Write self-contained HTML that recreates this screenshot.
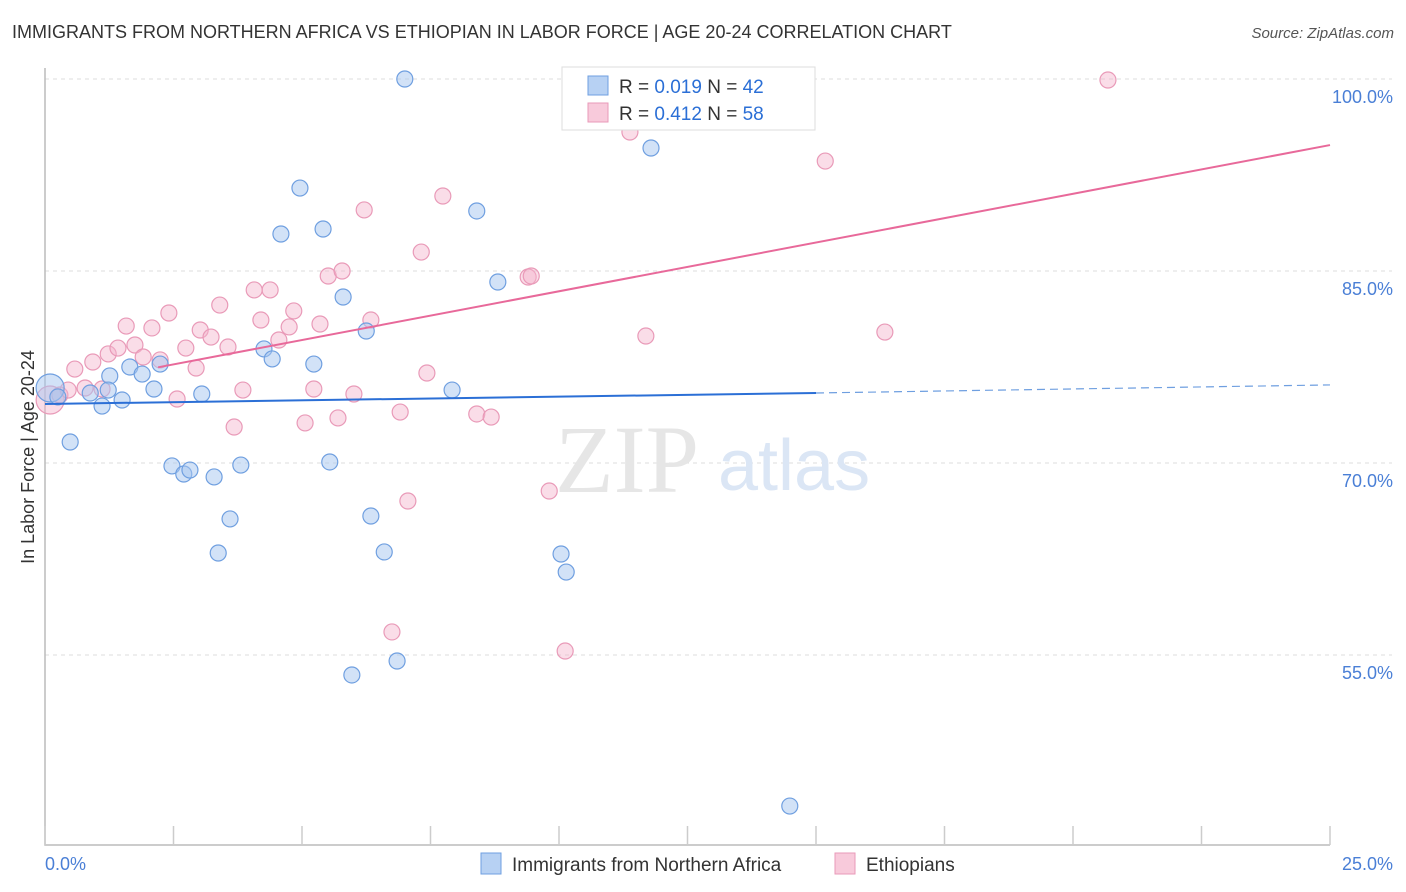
<!DOCTYPE html>
<html><head><meta charset="utf-8">
<style>
body{margin:0;background:#fff;font-family:"Liberation Sans",sans-serif;}
#wrap{position:relative;width:1406px;height:892px;overflow:hidden;}
.t{position:absolute;white-space:nowrap;}
</style></head>
<body>
<div id="wrap">
<div class="t" style="left:12px;top:22px;font-size:18px;color:#333;">IMMIGRANTS FROM NORTHERN AFRICA VS ETHIOPIAN IN LABOR FORCE | AGE 20-24 CORRELATION CHART</div>
<div class="t" style="right:12px;top:25px;font-size:15px;color:#555;font-style:italic;">Source: ZipAtlas.com</div>
<svg id="svg" width="1406" height="892" style="position:absolute;left:0;top:0"></svg>
</div>
<script>
const xTickVals=[0,2.5,5,7.5,10,12.5,15,17.5,20,22.5,25];
const yGridVals=[100,85,70,55];
const yTickLabels=["100.0%","85.0%","70.0%","55.0%"];
const xEndLabels=["0.0%","25.0%"];
const blueX=[0.10,0.25,0.49,0.88,1.11,1.26,1.50,1.65,1.89,2.12,2.24,2.47,2.70,2.82,3.05,3.29,3.60,3.37,3.81,4.26,4.42,4.59,4.96,5.23,5.41,5.54,5.80,6.25,6.34,6.60,6.85,5.97,7.00,7.92,8.40,8.81,10.04,10.14,11.79,13.52,14.49,1.23];
const blueY=[75.86,75.16,71.64,75.47,74.45,76.80,74.92,77.50,76.95,75.78,77.73,69.77,69.14,69.45,75.39,68.91,65.63,62.97,69.84,78.91,78.13,87.89,91.48,77.73,88.28,70.08,82.97,80.31,65.86,63.05,54.53,53.44,100,75.70,89.69,84.14,62.89,61.48,94.61,99.92,43.2,75.70];
const pinkX=[0.10,0.29,0.45,0.58,0.78,0.93,1.11,1.23,1.42,1.58,1.75,1.91,2.08,2.24,2.41,2.57,2.74,2.94,3.02,3.23,3.40,3.56,3.68,3.85,4.07,4.20,4.38,4.55,4.75,4.84,5.06,5.23,5.35,5.51,5.70,5.78,6.01,6.21,6.34,6.75,6.91,7.06,7.32,7.43,7.74,8.40,8.68,9.40,9.46,9.81,10.12,11.38,11.69,12.74,14.69,15.18,16.34,20.68];
const pinkY=[74.92,75.31,75.70,77.34,75.86,77.89,75.78,78.52,78.98,80.70,79.22,78.28,80.55,78.05,81.72,75.0,78.98,77.42,80.39,79.84,82.34,79.06,72.81,75.70,83.52,81.17,83.52,79.61,80.63,81.88,73.13,75.78,80.86,84.61,73.52,85.0,75.39,89.77,81.17,56.80,73.98,67.03,86.48,77.03,90.86,73.83,73.59,84.53,84.61,67.81,55.31,95.86,79.92,99.92,99.92,93.59,80.23,99.92];
const blueTrend=[74.61,75.47,76.1]; // at x=0, 15, 25
const pinkTrend=[75.8,94.84]; // at x=0, 25

const NS="http://www.w3.org/2000/svg";
const svg=document.getElementById('svg');
const X=v=>45+v*51.4;
const Y=v=>79+(100-v)*12.8;
function mk(tag,attrs,parent){const e=document.createElementNS(NS,tag);for(const k in attrs)e.setAttribute(k,attrs[k]);(parent||svg).appendChild(e);return e;}

yGridVals.forEach((v,i)=>{
  const g=mk('line',{x1:45,x2:1392,y1:Y(v),y2:Y(v),stroke:'#ddd','stroke-dasharray':'4,4'});
  
  const t=mk('text',{x:1393,y:Y(v)+24,'text-anchor':'end','font-size':18,fill:'#4a7fd6','font-family':'Liberation Sans'});
  t.textContent=yTickLabels[i];
  
});
const ax=mk('path',{d:'M45,68V845H1330',stroke:'#bbb',fill:'none','stroke-width':1.5});

xTickVals.forEach(v=>{
  const l=mk('line',{x1:X(v),x2:X(v),y1:826,y2:845,stroke:'#ccc','stroke-width':1.5});
  
});
[[0,'start',45],[25,'end',1393]].forEach((p,i)=>{
  const t=mk('text',{x:p[2],y:870,'text-anchor':p[1],'font-size':18,fill:'#4a7fd6','font-family':'Liberation Sans'});
  t.textContent=xEndLabels[i];
  
});
const yt=mk('text',{x:0,y:0,transform:'translate(34,457) rotate(-90)','text-anchor':'middle','font-size':18,fill:'#333','font-family':'Liberation Sans'});
yt.textContent='In Labor Force | Age 20-24';


// watermark
const wm=mk('text',{x:555,y:492,'font-size':96,fill:'#e6e6e6','font-family':'Liberation Serif'});
wm.textContent='ZIP';
const wm2=mk('text',{x:718,y:490,'font-size':72,fill:'#dbe6f5','font-family':'Liberation Sans'});
wm2.textContent='atlas';

function pts(xs,ys,fill,stroke,name){
  xs.forEach((x,i)=>{
    const big=(i===0);
    const c=mk('circle',{cx:X(x),cy:Y(ys[i]),r:big?14:8,fill:fill,stroke:stroke,'stroke-width':1.2});
    
  });
}
pts(pinkX,pinkY,'rgba(245,180,204,0.45)','#e99ab8','ethiopian-point');
pts(blueX,blueY,'rgba(165,198,240,0.5)','#6f9fe0','northern-africa-point');

const pl=mk('line',{x1:X(2.2),y1:Y(pinkTrend[0]+(pinkTrend[1]-pinkTrend[0])*2.2/25),x2:X(25),y2:Y(pinkTrend[1]),stroke:'#e8699a','stroke-width':2});

const bl=mk('line',{x1:X(0),y1:Y(blueTrend[0]),x2:X(15),y2:Y(blueTrend[1]),stroke:'#2b6fd6','stroke-width':2});

const bd=mk('line',{x1:X(15),y1:Y(blueTrend[1]),x2:X(25),y2:Y(blueTrend[2]),stroke:'#6f9fe0','stroke-width':1.2,'stroke-dasharray':'8,5'});


// top legend
const lg=mk('rect',{x:562,y:67,width:253,height:63,fill:'#fff',stroke:'#ddd'});

[[76,'rgba(165,198,240,0.8)','#6f9fe0','0.019','42'],[103,'rgba(245,180,204,0.7)','#e99ab8','0.412','58']].forEach(r=>{
  const s=mk('rect',{x:588,y:r[0],width:20,height:19,fill:r[1],stroke:r[2]});
  
  const t=mk('text',{x:619,y:r[0]+17,'font-size':19,fill:'#333','font-family':'Liberation Sans'});
  t.innerHTML='R = <tspan fill="#2b6fd6">'+r[3]+'</tspan>   N = <tspan fill="#2b6fd6">'+r[4]+'</tspan>';
  t.setAttribute('xml:space','preserve');
  
});
// bottom legend
[[481,'rgba(165,198,240,0.8)','#6f9fe0','Immigrants from Northern Africa'],[835,'rgba(245,180,204,0.7)','#e99ab8','Ethiopians']].forEach(r=>{
  const s=mk('rect',{x:r[0],y:853,width:20,height:21,fill:r[1],stroke:r[2]});
  
  const t=mk('text',{x:r[0]+31,y:871,'font-size':19,fill:'#333','font-family':'Liberation Sans'});
  t.textContent=r[3];
  
});
</script>
</body></html>
